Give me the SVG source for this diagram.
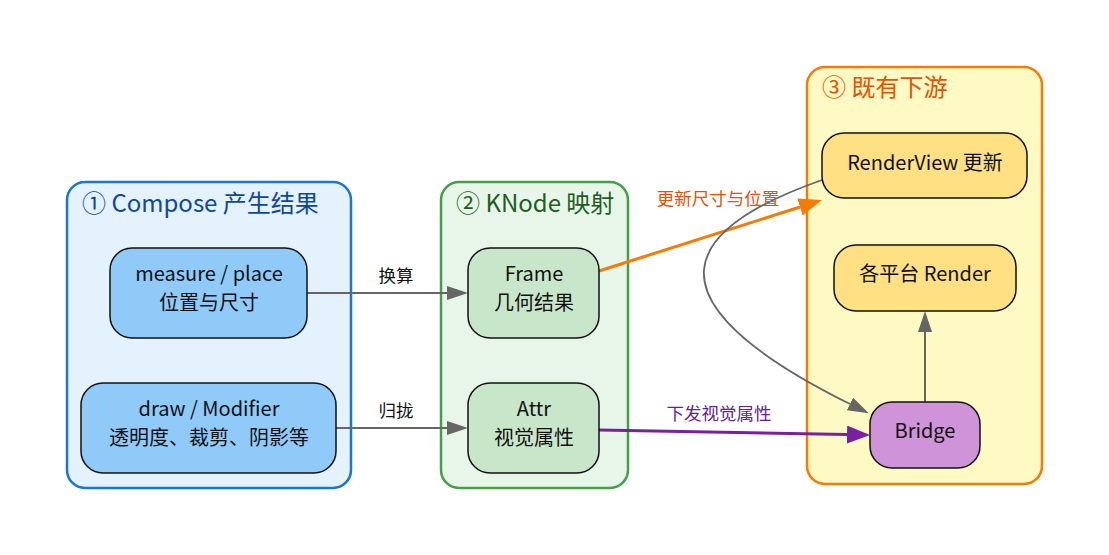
<svg xmlns="http://www.w3.org/2000/svg" width="1109" height="555" viewBox="0 0 1109 555">
<style>
text{font-family:"Noto Sans CJK SC","Noto Sans",sans-serif;}
.title{font-size:24px;}
.nt{font-size:20px;fill:#111;text-anchor:middle;}
.el{font-size:17.5px;text-anchor:middle;}
.node{stroke:#111;stroke-width:1.5;}
</style>
<defs>
<marker id="ag" markerUnits="userSpaceOnUse" markerWidth="22" markerHeight="16" refX="0" refY="7" orient="auto"><path d="M0,0 L21,7 L0,14 z" fill="#666"/></marker>
<marker id="ao" markerUnits="userSpaceOnUse" markerWidth="24" markerHeight="20" refX="0" refY="9" orient="auto"><path d="M0,0 L23,9 L0,18 z" fill="#f57c00"/></marker>
<marker id="ap" markerUnits="userSpaceOnUse" markerWidth="24" markerHeight="20" refX="0" refY="9" orient="auto"><path d="M0,0 L23,9 L0,18 z" fill="#7b1fa2"/></marker>
</defs>
<rect width="1109" height="555" fill="#fff"/>
<g id="cluster1">
<rect x="67" y="182" width="284" height="306" rx="18" fill="#e3f2fd" stroke="#1976d2" stroke-width="2.5"/>
<text class="title" x="82" y="212" fill="#0d47a1">① Compose 产生结果</text>
</g>
<g id="cluster2">
<rect x="441" y="182" width="187" height="306" rx="18" fill="#e8f5e9" stroke="#43a047" stroke-width="2.5"/>
<text class="title" x="456" y="212" fill="#1b5e20">② KNode 映射</text>
</g>
<g id="cluster3">
<rect x="807" y="67" width="235" height="417" rx="18" fill="#fff9c4" stroke="#f57c00" stroke-width="2.5"/>
<text class="title" x="822" y="96" fill="#e65100">③ 既有下游</text>
</g>
<g id="connectors" fill="none">
<path d="M307,293 L447,293" stroke="#666" stroke-width="2" marker-end="url(#ag)"/>
<path d="M336,428 L447,428" stroke="#666" stroke-width="2" marker-end="url(#ag)"/>
<path d="M599,271 L800,207" stroke="#f57c00" stroke-width="3" marker-end="url(#ao)"/>
<path d="M599,430 L847,434.6" stroke="#7b1fa2" stroke-width="3" marker-end="url(#ap)"/>
<path d="M822,180 C685,228 635,297 850,404" stroke="#666" stroke-width="1.8" marker-end="url(#ag)"/>
<path d="M925,402 L925,332" stroke="#666" stroke-width="2" marker-end="url(#ag)"/>
<text class="el" x="396" y="282" fill="#111">换算</text>
<text class="el" x="396" y="417" fill="#111">归拢</text>
<text class="el" x="718" y="205" fill="#e65100">更新尺寸与位置</text>
<text class="el" x="719" y="420" fill="#6a1b9a">下发视觉属性</text>
</g>
<g id="measure">
<rect class="node" x="110" y="248" width="197" height="90" rx="22" fill="#90caf9"/>
<text class="nt" x="209" y="281">measure / place</text>
<text class="nt" x="209" y="310">位置与尺寸</text>
</g>
<g id="draw">
<rect class="node" x="81" y="383" width="255" height="90" rx="22" fill="#90caf9"/>
<text class="nt" x="209" y="416">draw / Modifier</text>
<text class="nt" x="209" y="445">透明度、裁剪、阴影等</text>
</g>
<g id="frame">
<rect class="node" x="468" y="248" width="131" height="90" rx="22" fill="#c8e6c9"/>
<text class="nt" x="534" y="281">Frame</text>
<text class="nt" x="534" y="310">几何结果</text>
</g>
<g id="attr">
<rect class="node" x="468" y="383" width="131" height="90" rx="22" fill="#c8e6c9"/>
<text class="nt" x="534" y="416">Attr</text>
<text class="nt" x="534" y="445">视觉属性</text>
</g>
<g id="renderview">
<rect class="node" x="822" y="133" width="205" height="65" rx="22" fill="#ffe082"/>
<text class="nt" x="925" y="170">RenderView 更新</text>
</g>
<g id="platform">
<rect class="node" x="834" y="245" width="182" height="66" rx="22" fill="#ffe082"/>
<text class="nt" x="925" y="281">各平台 Render</text>
</g>
<g id="bridge">
<rect class="node" x="870" y="402" width="110" height="66" rx="22" fill="#ce93d8"/>
<text class="nt" x="925" y="438">Bridge</text>
</g>
</svg>
